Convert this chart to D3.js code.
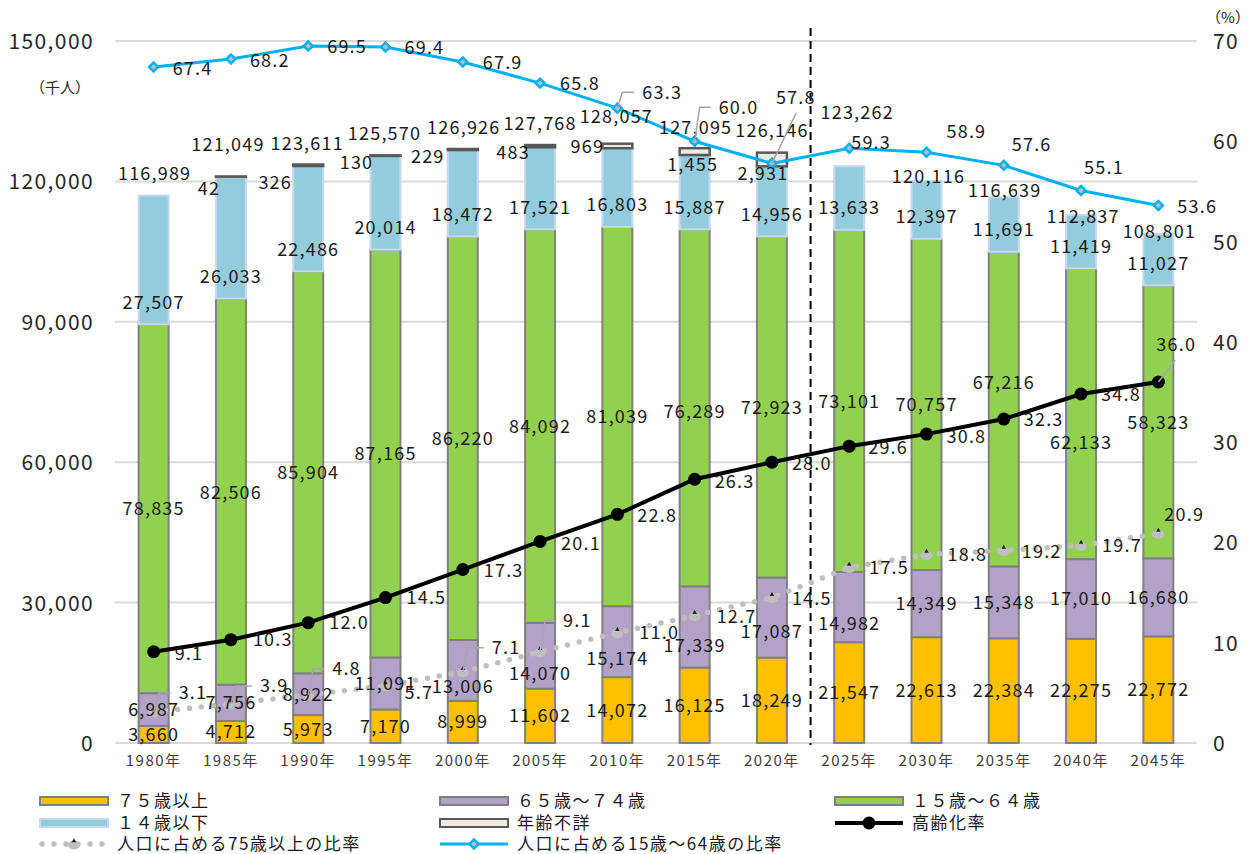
<!DOCTYPE html>
<html><head><meta charset="utf-8">
<script src="https://cdn.jsdelivr.net/npm/d3@7"></script>
<style>
body{margin:0;background:#fff;}
svg text{font-family:"Noto Sans CJK JP","Noto Sans",sans-serif;}
</style></head><body>
<svg id="chart" width="1253" height="854"></svg>
<script>
// ---------------- data ----------------
const years = ["1980年","1985年","1990年","1995年","2000年","2005年","2010年","2015年","2020年","2025年","2030年","2035年","2040年","2045年"];
const age75plus = [3660,4712,5973,7170,8999,11602,14072,16125,18249,21547,22613,22384,22275,22772];
const age65to74 = [6987,7756,8922,11091,13006,14070,15174,17339,17087,14982,14349,15348,17010,16680];
const age15to64 = [78835,82506,85904,87165,86220,84092,81039,76289,72923,73101,70757,67216,62133,58323];
const age0to14 = [27507,26033,22486,20014,18472,17521,16803,15887,14956,13633,12397,11691,11419,11027];
const ageUnknown = [null,42,326,130,229,483,969,1455,2931,null,null,null,null,null];
const totals = [116989,121049,123611,125570,126926,127768,128057,127095,126146,123262,120116,116639,112837,108801];
const agingRate = [9.1,10.3,12.0,14.5,17.3,20.1,22.8,26.3,28.0,29.6,30.8,32.3,34.8,36.0];
const ratio75plus = [3.1,3.9,4.8,5.7,7.1,9.1,11.0,12.7,14.5,17.5,18.8,19.2,19.7,20.9];
const ratio15to64 = [67.4,68.2,69.5,69.4,67.9,65.8,63.3,60.0,57.8,59.3,58.9,57.6,55.1,53.6];
const leftTicks = [0,30000,60000,90000,120000,150000];
const rightTicks = [0,10,20,30,40,50,60,70];
const seriesNames = ["７５歳以上","６５歳～７４歳","１５歳～６４歳","１４歳以下","年齢不詳","高齢化率","人口に占める75歳以上の比率","人口に占める15歳～64歳の比率"];

// ---------------- layout tweaks for labels (pixel offsets) ----------------
const totalLabelOff = [[1,-22],[-3,-32],[-1,-21],[-1,-22],[1,-21],[0,-22],[-1,-27],[1,-21],[0,-22],[8,-54],[2,-4],[1,-7],[2,2],[1,-2]];
const unknownLabelOff = [null,[-22,12],[-33,18],[-29,7],[-35,8],[-27,7],[-30,3],[-2,16],[-9,21],null,null,null,null,null];
const mid65Dy = [0,0,0,0,16,18,17,19,14,16,0,0,0,0];
const mid15Dy = [0,1,0,0,0,0,0,4,1,1,0,-27,29,1];
const ratio1564Off = [[19,1],[19,1],[19,1],[19,1],[20,0],[20,0],[25,-16,"e"],[24,-34,"e"],[4,-66,"d"],[2,-6],[20,-21],[8,-21],[3,-23],[19,1]];
const agingOff = [[21,2],[22,0],[21,0],[21,0],[21,1],[21,2],[20,1],[20,2],[20,1],[19,1],[20,2],[20,0],[20,1],[-2,-37,"d2"]];
const ratio75Off = [[25,-19,"e"],[29,-18,"e"],[24,-26,"e"],[19,7],[29,-24,"e"],[23,-31,"e"],[22,0],[22,1],[20,1],[20,0],[21,0],[18,1],[21,0],[6,-19]];

// ---------------- setup ----------------
const svg = d3.select("#chart");
const x = d3.scaleBand().domain(years).range([115,1197]).paddingInner(0.612).paddingOuter(0.306);
const yL = d3.scaleLinear().domain([0,150000]).range([743,41]);
const yR = d3.scaleLinear().domain([0,70]).range([743,41]);
const bw = x.bandwidth();
const cx = d => x(d) + bw/2;
const fmt = d3.format(",");
const pct = d3.format(".1f");

// gridlines
svg.append("g").selectAll("line").data(leftTicks).join("line")
  .attr("x1",115).attr("x2",1197).attr("y1",d=>yL(d)).attr("y2",d=>yL(d))
  .attr("stroke","#d9d9d9").attr("stroke-width",2);

// axes
const axL = svg.append("g").attr("transform","translate(115,0)")
  .call(d3.axisLeft(yL).tickValues(leftTicks).tickSize(0).tickPadding(21).tickFormat(fmt));
const axR = svg.append("g").attr("transform","translate(1197,0)")
  .call(d3.axisRight(yR).tickValues(rightTicks).tickSize(0).tickPadding(16));
const axB = svg.append("g").attr("transform","translate(0,743)")
  .call(d3.axisBottom(x).tickSize(0).tickPadding(12));
[axL,axR,axB].forEach(a=>{a.select(".domain").remove();});
axL.selectAll("text").attr("font-size",21).attr("letter-spacing",1.4).attr("dy","0.36em").attr("fill","#262626").style("font-family",'"Noto Sans CJK JP",sans-serif');
axR.selectAll("text").attr("font-size",21).attr("letter-spacing",1.4).attr("dy","0.36em").attr("fill","#262626").style("font-family",'"Noto Sans CJK JP",sans-serif');
axB.selectAll("text").attr("font-size",15).attr("letter-spacing",1.5).attr("fill","#404040").style("font-family",'"Noto Sans CJK JP",sans-serif');

svg.append("text").attr("x",60).attr("y",88).attr("dy","0.36em").attr("text-anchor","middle").attr("font-size",15).attr("fill","#262626").text("（千人）");
svg.append("text").attr("x",1228).attr("y",18).attr("dy","0.36em").attr("text-anchor","middle").attr("font-size",15).attr("fill","#262626").text("（%）");

// ---------------- stacked bars ----------------
const keys = ["a75","a65","a15","a0","unk"];
const fills = ["#FFC000","#B3A2C7","#92D050","#93CDDD","#EEECE1"];
const strokes = ["#808080","#808080","#808080","#C6D9F1","#595959"];
const table = years.map((y,i)=>({year:y,a75:age75plus[i],a65:age65to74[i],a15:age15to64[i],a0:age0to14[i],unk:ageUnknown[i]||0,hasUnk:ageUnknown[i]!=null}));
const stacked = d3.stack().keys(keys)(table);
stacked.forEach((s,k)=>{
  svg.append("g").selectAll("rect").data(s.filter(d=>k<4 || d.data.hasUnk)).join("rect")
    .attr("x",d=>x(d.data.year)).attr("width",bw)
    .attr("y",d=>yL(d[1])).attr("height",d=>Math.max(0,yL(d[0])-yL(d[1])))
    .attr("fill",fills[k]).attr("stroke",strokes[k]).attr("stroke-width",k==4?2.5:2);
});

// divider
const xDiv = (cx(years[8])+cx(years[9]))/2;
svg.append("line").attr("x1",xDiv).attr("x2",xDiv).attr("y1",28).attr("y2",745)
  .attr("stroke","#000").attr("stroke-width",2).attr("stroke-dasharray","8,5");

// ---------------- lines ----------------
const lineGen = d3.line().x((d,i)=>cx(years[i])).y(d=>yR(d));
svg.append("path").datum(ratio75plus).attr("d",lineGen).attr("fill","none")
  .attr("stroke","#BFBFBF").attr("stroke-width",5.5).attr("stroke-linecap","round").attr("stroke-dasharray","0 12");
const m75 = svg.append("g").selectAll("g").data(ratio75plus).join("g")
  .attr("transform",(d,i)=>`translate(${cx(years[i])},${yR(d)})`);
m75.append("ellipse").attr("rx",6).attr("ry",4.5).attr("cy",1).attr("fill","#BFBFBF");
m75.append("path").attr("d",d3.symbol(d3.symbolTriangle,9)).attr("transform","translate(0,-3)").attr("fill","#222");

svg.append("path").datum(agingRate).attr("d",lineGen).attr("fill","none").attr("stroke","#000").attr("stroke-width",4);
svg.append("g").selectAll("circle").data(agingRate).join("circle")
  .attr("cx",(d,i)=>cx(years[i])).attr("cy",d=>yR(d)).attr("r",6.5).attr("fill","#000");

svg.append("path").datum(ratio15to64).attr("d",lineGen).attr("fill","none").attr("stroke","#00B0F0").attr("stroke-width",3);
svg.append("g").selectAll("path").data(ratio15to64).join("path")
  .attr("d",d3.symbol(d3.symbolSquare,40))
  .attr("transform",(d,i)=>`translate(${cx(years[i])},${yR(d)}) rotate(45)`)
  .attr("fill","#BFBFBF").attr("stroke","#00B0F0").attr("stroke-width",2.5);

// ---------------- labels ----------------
const lblG = svg.append("g").attr("font-size",18).attr("letter-spacing",1.2).attr("fill","#1a1a1a");
function lbl(xp,yp,t,anchor){
  lblG.append("text").attr("x",xp).attr("y",yp).attr("dy","0.36em").attr("text-anchor",anchor||"middle").text(t);
}
const leadG = svg.append("g").attr("fill","none").attr("stroke","#A6A6A6").attr("stroke-width",1.5);

table.forEach((d,i)=>{
  const c = cx(d.year);
  const s0 = d.a75, s1 = s0+d.a65, s2 = s1+d.a15, s3 = s2+d.a0;
  lbl(c, yL(s0/2), fmt(d.a75));
  lbl(c, yL((s0+s1)/2)+mid65Dy[i], fmt(d.a65));
  lbl(c, yL((s1+s2)/2)+mid15Dy[i], fmt(d.a15));
  lbl(c, yL(s2)-22, fmt(d.a0));
  const top = yL(totals[i]);
  lbl(c+totalLabelOff[i][0], top+totalLabelOff[i][1], fmt(totals[i]));
  if(d.hasUnk){ lbl(c+unknownLabelOff[i][0], yL(s3+d.unk)+unknownLabelOff[i][1], fmt(d.unk)); }
});

function pointLabels(vals, offs){
  vals.forEach((v,i)=>{
    const px = cx(years[i]), py = yR(v);
    const [dx,dy,lead] = offs[i];
    if(lead==="e"){
      leadG.append("path").attr("d",d3.line()([[px,py],[px+5,py+dy],[px+dx-8,py+dy]]));
    } else if(lead==="d"){
      leadG.append("path").attr("d",d3.line()([[px,py],[px+dx+20,py+dy+16]]));
    } else if(lead==="d2"){
      leadG.append("path").attr("d",d3.line()([[px,py],[px+17,py-22]]));
    }
    lbl(px+dx, py+dy, pct(v), "start");
  });
}
pointLabels(ratio15to64, ratio1564Off);
pointLabels(agingRate, agingOff);
pointLabels(ratio75plus, ratio75Off);

// ---------------- legend ----------------
const legG = svg.append("g").attr("font-size",17).attr("letter-spacing",1.5).attr("fill","#1a1a1a");
const colX = [40,440,835], rowY = [801,823,844];
const legItems = [
  {c:0,r:0,type:"rect",k:0},{c:1,r:0,type:"rect",k:1},{c:2,r:0,type:"rect",k:2},
  {c:0,r:1,type:"rect",k:3},{c:1,r:1,type:"rect",k:4},{c:2,r:1,type:"aging"},
  {c:0,r:2,type:"dot"},{c:1,r:2,type:"blue"}
];
legItems.forEach((it,i)=>{
  const lx = colX[it.c], ly = rowY[it.r];
  if(it.type==="rect"){
    legG.append("rect").attr("x",lx).attr("y",ly-4).attr("width",68).attr("height",8)
      .attr("fill",fills[it.k]).attr("stroke",strokes[it.k]).attr("stroke-width",2);
  } else if(it.type==="aging"){
    legG.append("line").attr("x1",lx).attr("x2",lx+68).attr("y1",ly).attr("y2",ly).attr("stroke","#000").attr("stroke-width",4);
    legG.append("circle").attr("cx",lx+34).attr("cy",ly).attr("r",6.5).attr("fill","#000");
  } else if(it.type==="dot"){
    legG.append("line").attr("x1",lx+2).attr("x2",lx+68).attr("y1",ly).attr("y2",ly).attr("stroke","#BFBFBF")
      .attr("stroke-width",5.5).attr("stroke-linecap","round").attr("stroke-dasharray","0 12");
    legG.append("ellipse").attr("cx",lx+34).attr("cy",ly+1).attr("rx",6).attr("ry",4.5).attr("fill","#BFBFBF");
    legG.append("path").attr("d",d3.symbol(d3.symbolTriangle,9)).attr("transform",`translate(${lx+34},${ly-3})`).attr("fill","#222");
  } else if(it.type==="blue"){
    legG.append("line").attr("x1",lx).attr("x2",lx+68).attr("y1",ly).attr("y2",ly).attr("stroke","#00B0F0").attr("stroke-width",3);
    legG.append("path").attr("d",d3.symbol(d3.symbolSquare,40)).attr("transform",`translate(${lx+34},${ly}) rotate(45)`)
      .attr("fill","#BFBFBF").attr("stroke","#00B0F0").attr("stroke-width",2.5);
  }
  legG.append("text").attr("x",lx+77).attr("y",ly).attr("dy","0.36em").text(seriesNames[i]);
});
</script></body></html>
